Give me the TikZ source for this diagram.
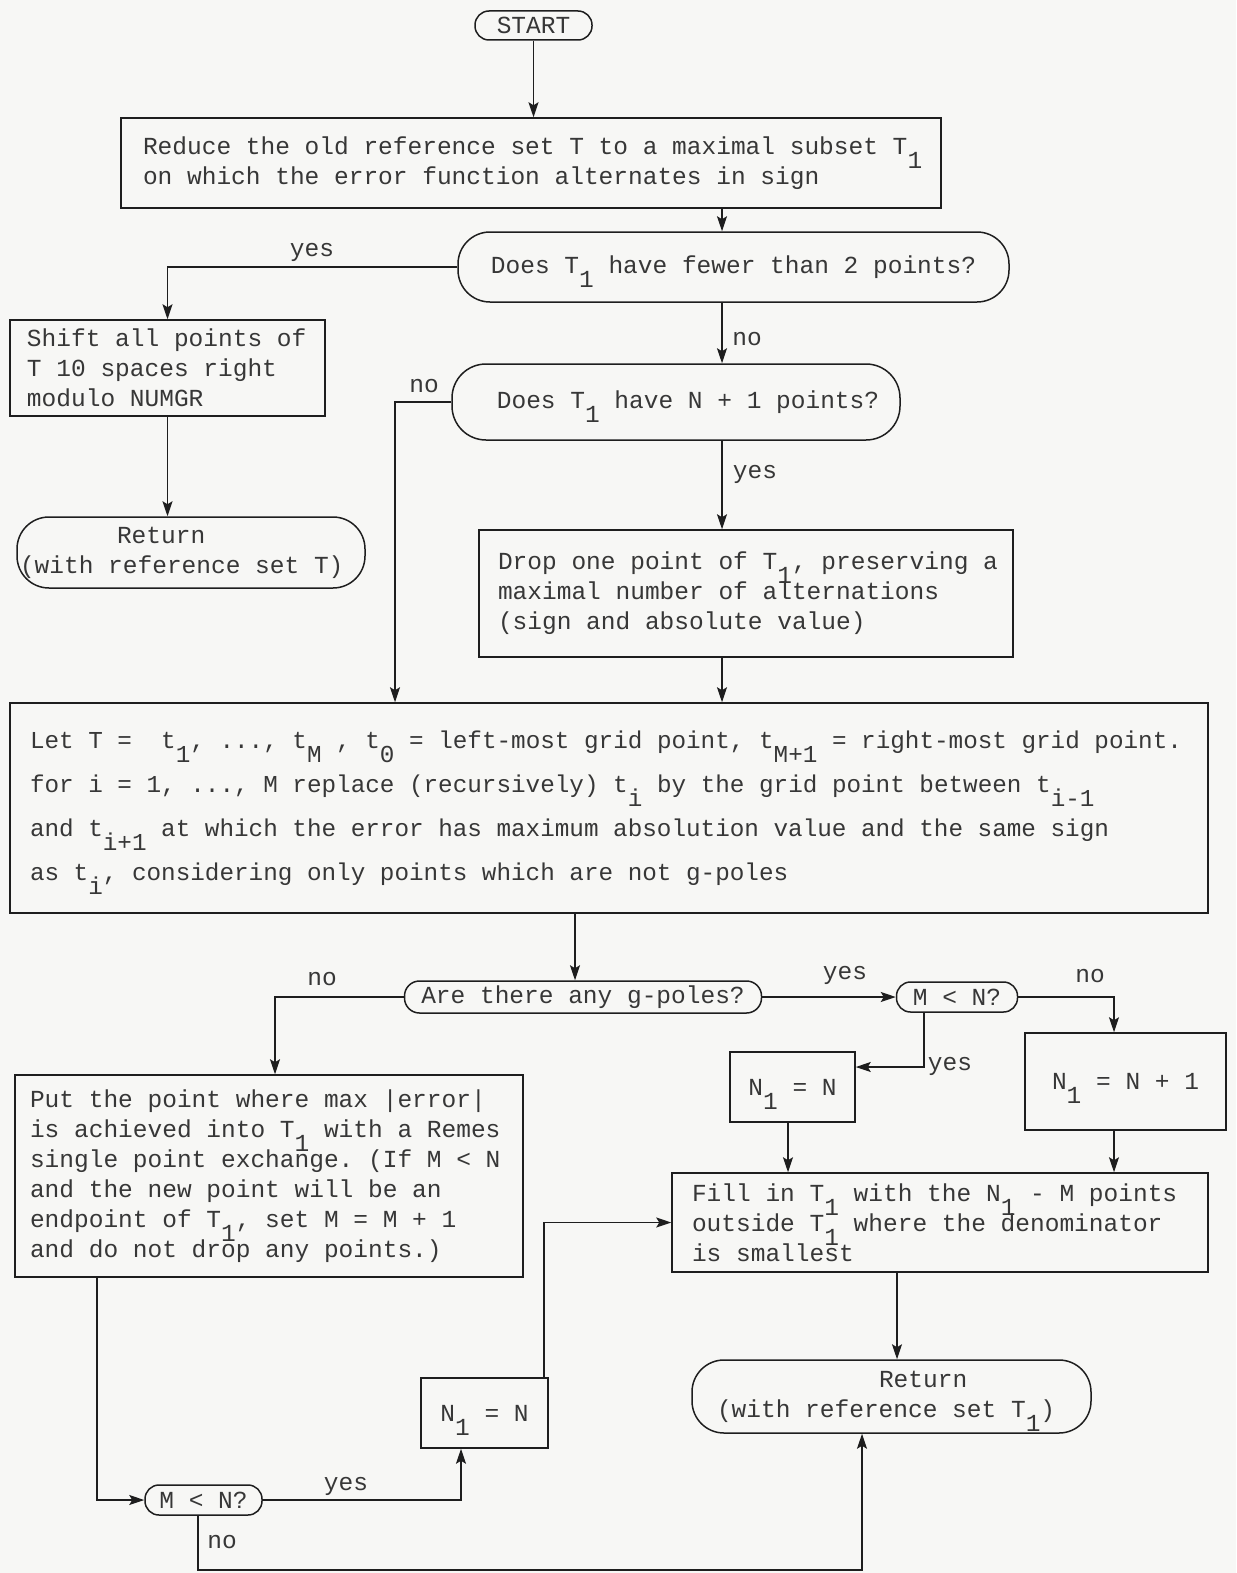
\documentclass[tikz,border=0pt]{standalone}
\usepackage{fontspec}
\setmonofont{Liberation Mono}
\usetikzlibrary{arrows.meta}
\definecolor{paper}{RGB}{247,247,245}
\definecolor{ink}{RGB}{30,30,30}
\definecolor{tink}{RGB}{55,55,55}
\newcommand\sbs[1]{\raisebox{-14pt}[0pt][0pt]{#1}}
\newcommand\nsp{\spaceskip=0pt\xspaceskip=0pt\relax}
\begin{document}
\begin{tikzpicture}[x=1pt,y=-1pt,
  tt/.style={font=\ttfamily\fontsize{24.5}{30}\selectfont, text=tink, execute at begin node=\nsp},
  box/.style={draw=ink, line width=1.5pt, rectangle, tt, inner sep=0pt, align=flush left},
  pill/.style={draw=ink, line width=1.5pt, rectangle, tt, inner sep=0pt, align=center},
  arr/.style={draw=ink, line width=1.5pt, -{Stealth[length=15pt,width=10pt,inset=3pt]}},
  lbl/.style={tt, inner sep=0pt}]
\fill[paper] (0,0) rectangle (1236,1573);
\useasboundingbox (0,0) rectangle (1236,1573);

% nodes
\node[pill, rounded corners=14pt, minimum width=117pt, minimum height=29pt] (start) at (533.5,25.5) {START};
\node[box, minimum width=820pt, minimum height=90pt, text width=776pt] (box1) at (531,163)
  {\mbox{Reduce the old reference set T to a maximal subset T\sbs{1}}\\
   \mbox{on which the error function alternates in sign}};
\node[pill, rounded corners=32pt, minimum width=551pt, minimum height=70pt] (dec1) at (733.5,267)
  {Does T\sbs{1} have fewer than 2 points?};
\node[box, minimum width=315pt, minimum height=96pt, text width=281pt] (shift) at (167.5,368)
  {\mbox{Shift all points of}\\ \mbox{T 10 spaces right}\\ \mbox{modulo NUMGR}};
\node[pill, rounded corners=32pt, minimum width=348pt, minimum height=71pt, align=flush left, text width=342pt] (ret1) at (191,552.5)
  {\hspace*{97pt}Return\\ \mbox{(with reference set T)}};
\node[pill, rounded corners=34pt, minimum width=448pt, minimum height=76pt] (dec2) at (676,402)
  {\hspace*{24pt}Does T\sbs{1} have N + 1 points?};
\node[box, minimum width=534pt, minimum height=127pt, text width=496pt] (drop) at (746,593.5)
  {\mbox{Drop one point of T\sbs{1}, preserving a}\\
   \mbox{maximal number of alternations}\\
   \mbox{(sign and absolute value)}};
\node[box, minimum width=1198pt, minimum height=210pt, text width=1158pt,
      font=\ttfamily\fontsize{24.3}{44}\selectfont] (big) at (609,808)
  {\mbox{Let T =\ \ t\sbs{1}, ..., t\sbs{M} , t\sbs{0} = left-most grid point, t\sbs{M+1} = right-most grid point.}\\
   \mbox{for i = 1, ..., M replace (recursively) t\sbs{i} by the grid point between t\sbs{i-1}}\\
   \mbox{and t\sbs{i+1} at which the error has maximum absolution value and the same sign}\\
   \mbox{as t\sbs{i}, considering only points which are not g-poles}};
\node[pill, rounded corners=15pt, minimum width=357pt, minimum height=32pt] (dec3) at (583,997)
  {Are there any g-poles?};
\node[pill, rounded corners=14pt, minimum width=121pt, minimum height=30pt] (mn1) at (957,997)
  {M < N?};
\node[box, align=center, minimum width=125pt, minimum height=70pt] (n1a) at (792.5,1087)
  {N\sbs{1} = N};
\node[box, align=center, minimum width=201pt, minimum height=97pt] (n1b) at (1125.5,1081.5)
  {N\sbs{1} = N + 1};
\node[box, minimum width=508pt, minimum height=202pt, text width=478pt] (put) at (269,1176)
  {\mbox{Put the point where max |error|}\\
   \mbox{is achieved into T\sbs{1} with a Remes}\\
   \mbox{single point exchange. (If M < N}\\
   \mbox{and the new point will be an}\\
   \mbox{endpoint of T\sbs{1}, set M = M + 1}\\
   \mbox{and do not drop any points.)}};
\node[box, minimum width=536pt, minimum height=99pt, text width=496pt] (fill) at (940,1222.5)
  {\mbox{Fill in T\sbs{1} with the N\sbs{1} - M points}\\
   \mbox{outside T\sbs{1} where the denominator}\\
   \mbox{is smallest}};
\node[pill, rounded corners=32pt, minimum width=399pt, minimum height=73pt, align=flush left, text width=349pt] (ret2) at (891.5,1396.5)
  {\hspace*{162pt}Return\\ \mbox{(with reference set T\sbs{1})}};
\node[box, align=center, minimum width=127pt, minimum height=70pt] (n1c) at (484.5,1413)
  {N\sbs{1} = N};
\node[pill, rounded corners=14pt, minimum width=117pt, minimum height=30pt] (mn2) at (203.5,1500)
  {M < N?};

% labels
\node[lbl] (l1) at (312,252) {yes};
\node[lbl] (l2) at (747,339) {no};
\node[lbl] (l3) at (424,386) {no};
\node[lbl] (l4) at (755,474) {yes};
\node[lbl] (l5) at (322,979) {no};
\node[lbl] (l6) at (845,975) {yes};
\node[lbl] (l7) at (1090,976) {no};
\node[lbl] (l8) at (950,1066) {yes};
\node[lbl] (l9) at (346,1486) {yes};
\node[lbl] (l10) at (222,1542) {no};

% columns
\coordinate (xa) at (722,0);
\coordinate (xb) at (395,0);
\coordinate (xc) at (575,0);
\coordinate (xd) at (275,0);
\coordinate (xe) at (1114,0);
\coordinate (xf) at (924,0);
\coordinate (xg) at (788,0);
\coordinate (xh) at (897,0);
\coordinate (xi) at (97,0);
\coordinate (xj) at (461,0);
\coordinate (xk) at (544,0);
\coordinate (xl) at (198,0);
\coordinate (xm) at (862,0);
\coordinate (yb) at (0,1570);

% connectors
\draw[arr] (start.south) -- (start.south |- box1.north);
\draw[arr] (box1.south -| xa) -- (dec1.north -| xa);
\draw[arr] (dec1.west) -| (shift.north);
\draw[arr] (dec1.south -| xa) -- (dec2.north -| xa);
\draw[arr] (shift.south) -- (shift.south |- ret1.north);
\draw[arr] (dec2.west) -| (big.north -| xb);
\draw[arr] (dec2.south -| xa) -- (drop.north -| xa);
\draw[arr] (drop.south -| xa) -- (big.north -| xa);
\draw[arr] (big.south -| xc) -- (dec3.north -| xc);
\draw[arr] (dec3.west) -| (put.north -| xd);
\draw[arr] (dec3.east) -- (mn1.west);
\draw[arr] (mn1.east) -| (n1b.north -| xe);
\draw[arr] (mn1.south -| xf) |- ([yshift=20pt]n1a.east);
\draw[arr] (n1a.south -| xg) -- (fill.north -| xg);
\draw[arr] (n1b.south -| xe) -- (fill.north -| xe);
\draw[arr] (fill.south -| xh) -- (ret2.north -| xh);
\draw[arr] (put.south -| xi) |- (mn2.west);
\draw[arr] (mn2.east) -| (n1c.south -| xj);
\draw[arr] (n1c.north -| xk) |- (fill.west);
\draw[arr] (mn2.south -| xl) -- (xl |- yb) -| (ret2.south -| xm);
\end{tikzpicture}
\end{document}
